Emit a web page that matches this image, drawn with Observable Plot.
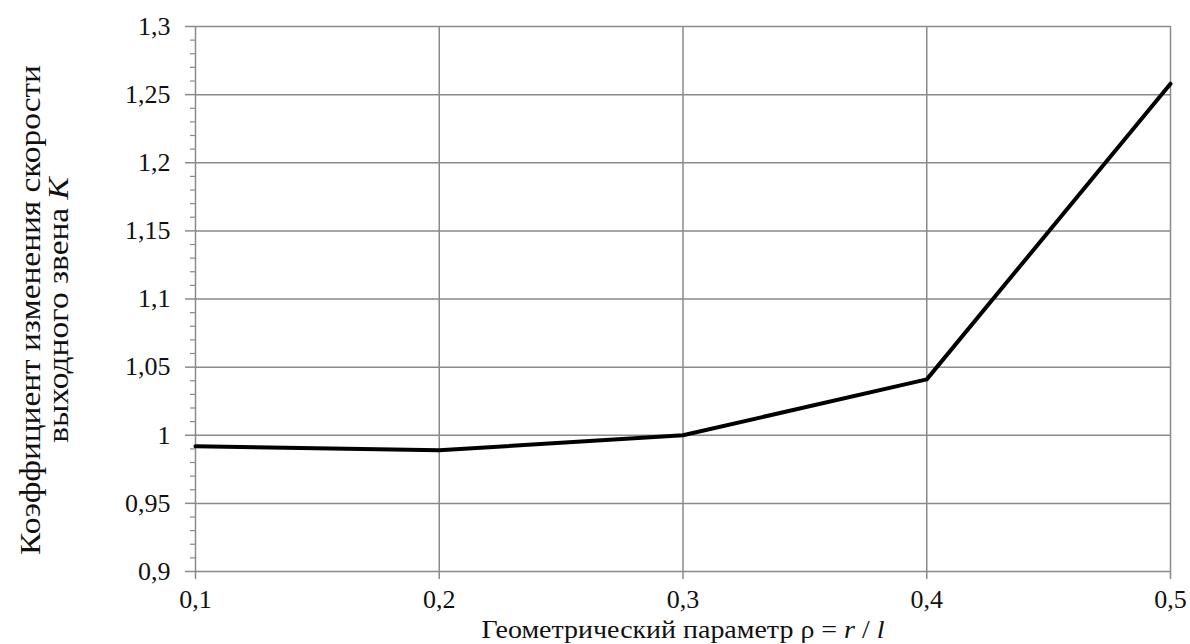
<!DOCTYPE html>
<html>
<head>
<meta charset="utf-8">
<script src="https://cdn.jsdelivr.net/npm/d3@7"></script>
<script src="https://cdn.jsdelivr.net/npm/@observablehq/plot@0.6"></script>
<style>
  html, body { margin: 0; padding: 0; background: #fff; }
</style>
</head>
<body>
<div id="chart"></div>
<script>
// Data
const rhoValues = [0.1, 0.2, 0.3, 0.4, 0.5];
const kValues = [0.992, 0.989, 1.0, 1.041, 1.258];
const xTicks = [0.1, 0.2, 0.3, 0.4, 0.5];
const yTicks = [0.9, 0.95, 1, 1.05, 1.1, 1.15, 1.2, 1.25, 1.3];
const yMinorTicks = d3.range(90, 131).filter(d => d % 5 !== 0).map(d => d / 100);
const yLabelLine1 = "Коэффициент изменения скорости";
const yLabelLine2 = "выходного звена ";
const yLabelVar = "K";
const xLabelText = "Геометрический параметр ρ = ";

const data = rhoValues.map((x, i) => ({x, k: kValues[i]}));
const fmt = d => String(+d.toFixed(2)).replace(".", ",");
const gridColor = "#8a8a8a";
const font = "Liberation Serif";

const chart = Plot.plot({
  width: 1190,
  height: 644,
  marginLeft: 195,
  marginRight: 20,
  marginTop: 26,
  marginBottom: 73,
  style: {fontSize: "26px", color: "#222", background: "#fff"},
  x: {domain: [0.1, 0.5]},
  y: {domain: [0.9, 1.3]},
  marks: [
    Plot.gridY(yTicks, {stroke: gridColor, strokeOpacity: 1, strokeWidth: 1.5}),
    Plot.gridX(xTicks, {stroke: gridColor, strokeOpacity: 1, strokeWidth: 1.5}),
    Plot.axisY(yMinorTicks, {tickSize: 5, text: null, label: null, stroke: gridColor, strokeWidth: 1.2}),
    Plot.axisY(yTicks, {tickSize: 10, tickPadding: 15, tickFormat: fmt, stroke: gridColor, strokeWidth: 1.5, fill: "#111", label: null, fontSize: 26, fontFamily: font}),
    Plot.axisX(xTicks, {tickSize: 8, tickPadding: 10, tickFormat: fmt, stroke: gridColor, strokeWidth: 1.5, fill: "#111", label: null, fontSize: 26, fontFamily: font}),
    Plot.line(data, {x: "x", y: "k", stroke: "#000", strokeWidth: 4, strokeLinejoin: "round"})
  ]
});

document.getElementById("chart").appendChild(chart);
const svg = d3.select(chart);
svg.attr("font-family", font);

// Y axis title (two lines, rotated, stretched along its length like the reference)
const yg = svg.append("g");
const yl = yg.append("text")
  .attr("text-anchor", "middle")
  .attr("font-family", font)
  .attr("font-size", 29)
  .attr("fill", "#111");
const t1 = yl.append("tspan").attr("x", 0).attr("y", 0).text(yLabelLine1);
const l2 = yl.append("tspan").attr("x", 0).attr("y", 28);
l2.append("tspan").text(yLabelLine2);
l2.append("tspan").attr("font-style", "italic").text(yLabelVar);

// X axis title
const xl = svg.append("text")
  .attr("x", 683).attr("y", 638)
  .attr("text-anchor", "middle")
  .attr("font-family", font)
  .attr("font-size", 26)
  .attr("textLength", 403)
  .attr("lengthAdjust", "spacingAndGlyphs")
  .attr("fill", "#111");
xl.append("tspan").text(xLabelText);
xl.append("tspan").attr("font-style", "italic").text("r");
xl.append("tspan").text(" / ");
xl.append("tspan").attr("font-style", "italic").text("l");

// force the serif face on every text node
svg.selectAll("text, tspan").attr("font-family", font).style("font-family", font);

const natural = t1.node().getComputedTextLength() || 430;
const sx = 490 / natural;
yg.attr("transform", `translate(40,310) rotate(-90) scale(${sx},1)`);
</script>
</body>
</html>
